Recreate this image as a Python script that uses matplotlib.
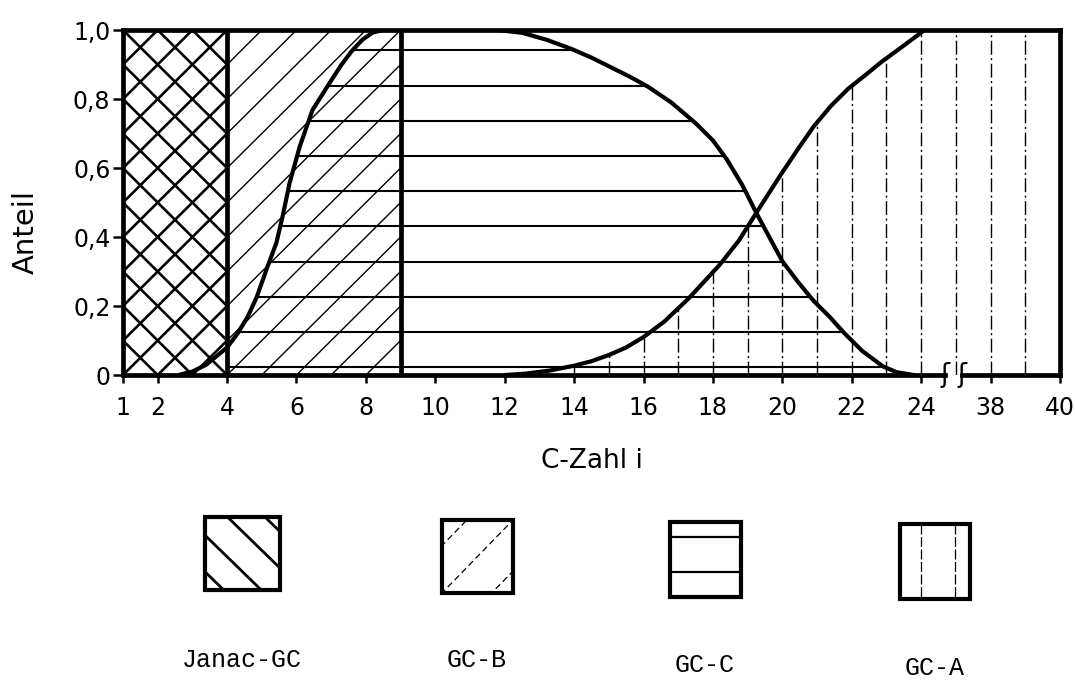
import numpy as np
import matplotlib.pyplot as plt
from matplotlib.patches import Polygon, Rectangle
from matplotlib.collections import LineCollection

plt.rcParams["font.family"] = ["DejaVu Sans"]

# x axis: C-Zahl i, broken after 24
tick_c = [1, 2, 4, 6, 8, 10, 12, 14, 16, 18, 20, 22, 24, 38, 40]
y_ticks = [0, 0.2, 0.4, 0.6, 0.8, 1.0]
y_labels = ["0", "0,2", "0,4", "0,6", "0,8", "1,0"]

# column limits of the bands
janac_c = [1, 4]
gcb_c = [4, 9]
c_last = 40

# rising share of GC-C (boundary to GC-B)
gcc_in_c = [2.6, 3.0, 3.4, 3.7, 4.0, 4.3, 4.6, 4.85, 5.15, 5.42, 5.6, 5.8,
            6.09, 6.46, 6.95, 7.3, 7.6, 7.9, 8.2, 8.5]
gcc_in_y = [0.0, 0.01, 0.03, 0.055, 0.08, 0.12, 0.17, 0.225, 0.31, 0.383,
            0.46, 0.556, 0.661, 0.768, 0.846, 0.9, 0.94, 0.972, 0.993, 1.0]

# falling share of GC-C
gcc_out_c = [11.8, 12.5, 13.2, 13.93, 14.5, 15.0, 15.6, 16.14, 16.8, 17.5,
             18.0, 18.4, 18.85, 19.25, 19.65, 20.0, 20.45, 20.9, 21.35, 21.8,
             22.3, 22.9, 23.3, 23.8]
gcc_out_y = [1.0, 0.992, 0.972, 0.945, 0.92, 0.895, 0.865, 0.835, 0.79, 0.73,
             0.68, 0.625, 0.55, 0.47, 0.395, 0.33, 0.27, 0.215, 0.17, 0.12,
             0.07, 0.025, 0.008, 0.0]

# rising share of GC-A
gca_in_c = [12.0, 12.6, 13.3, 14.0, 14.5, 15.0, 15.5, 16.0, 16.6, 17.3, 18.2,
            18.75, 19.25, 19.95, 20.45, 20.9, 21.4, 21.9, 22.4, 22.85, 23.5, 24.1]
gca_in_y = [0.0, 0.004, 0.013, 0.027, 0.04, 0.058, 0.08, 0.11, 0.155, 0.222,
            0.32, 0.39, 0.47, 0.58, 0.655, 0.72, 0.78, 0.83, 0.87, 0.907,
            0.955, 1.0]

legend_names = ["Janac-GC", "GC-B", "GC-C", "GC-A"]


def to_pos(c):
    """Axis position of a C-Zahl: 38 and 40 are shifted back by the break."""
    c = np.asarray(c, dtype=float)
    return np.where(c < 30, c, c - 12)


def clip_patch(ax, xs, ys):
    patch = Polygon(np.column_stack([xs, ys]), closed=True,
                    facecolor="none", edgecolor="none", transform=ax.transData)
    ax.add_patch(patch)
    return patch


fig = plt.figure(figsize=(10.75, 6.81), dpi=100)
ax = fig.add_axes([0.1144, 0.4493, 0.8716, 0.5066])

x_lo, x_hi = float(to_pos(1)), float(to_pos(c_last))
ax.set_xlim(x_lo, x_hi)
ax.set_ylim(0, 1)

# --- Janac-GC / GC-B: crosshatch in 1..4, "/" hatch in 4..9
slope = 0.1
ks = np.arange(-12, 30)
fwd = [[(k, 0), (k + 1 / slope, 1)] for k in ks]
bwd = [[(k, 0), (k - 1 / slope, 1)] for k in ks]

janac_clip = clip_patch(ax, [janac_c[0], janac_c[1], janac_c[1], janac_c[0]], [0, 0, 1, 1])
cross = LineCollection(fwd + bwd, colors="black", linewidths=1.9, zorder=2)
ax.add_collection(cross)
cross.set_clip_path(janac_clip)

gcb_clip = clip_patch(ax, [gcb_c[0], gcb_c[1], gcb_c[1], gcb_c[0]], [0, 0, 1, 1])
gcb_lines = LineCollection(fwd, colors="black", linewidths=1.0, zorder=2)
ax.add_collection(gcb_lines)
gcb_lines.set_clip_path(gcb_clip)

# --- GC-C: horizontal hatch between the two curves
gcc_x = np.concatenate([to_pos(gcc_in_c), to_pos(gcc_out_c)])
gcc_y = np.concatenate([gcc_in_y, gcc_out_y])
gcc_clip = clip_patch(ax, gcc_x, gcc_y)
levels = 0.023 + 0.102 * np.arange(10)
h = ax.hlines(levels, janac_c[1], 24, colors="black", linewidths=1.5, zorder=2)
h.set_clip_path(gcc_clip)

# --- GC-A: vertical hatch under the rising curve, full height after 24
gca_x = np.concatenate([to_pos(gca_in_c), [x_hi, x_hi]])
gca_y = np.concatenate([gca_in_y, [1, 0]])
gca_clip = clip_patch(ax, gca_x, gca_y)
v = ax.vlines(np.arange(13, x_hi), 0, 1, colors="black", linewidths=1.0,
              linestyles=[(0, (10, 2.5, 1.5, 2.5))], zorder=2)
v.set_clip_path(gca_clip)

# band borders and share curves
for c in (janac_c[1], gcb_c[1]):
    ax.axvline(float(to_pos(c)), color="black", lw=3.4, zorder=4)
for cs, ys in ((gcc_in_c, gcc_in_y), (gcc_out_c, gcc_out_y), (gca_in_c, gca_in_y)):
    ax.plot(to_pos(cs), ys, color="black", lw=3.0, zorder=5,
            solid_capstyle="round", solid_joinstyle="round")

# frame with a broken bottom axis
for side in ("left", "top", "right"):
    ax.spines[side].set_linewidth(3.4)
ax.spines["bottom"].set_visible(False)
gap = (24.69, 25.18)
ax.plot([x_lo, gap[0]], [0, 0], color="black", lw=3.4, clip_on=False, zorder=6)
ax.plot([gap[1], x_hi], [0, 0], color="black", lw=3.4, clip_on=False, zorder=6)
for gx in gap:
    ax.text(gx, 0, "ʃ", ha="center", va="center", fontsize=19, clip_on=False,
            zorder=7)

ax.set_xticks(to_pos(tick_c))
ax.set_xticklabels([str(c) for c in tick_c])
ax.set_yticks(y_ticks)
ax.set_yticklabels(y_labels)
ax.tick_params(axis="x", direction="out", length=6, width=1.8, pad=9,
               labelsize=17)
ax.tick_params(axis="y", direction="out", length=7, width=1.8, pad=2,
               labelsize=17)

ax.set_xlabel("C-Zahl i", fontsize=19, labelpad=20)
fig.text(0.024, 0.66, "Anteil", rotation=90, ha="center", va="center",
         fontsize=21)

# --- legend boxes drawn in pixel coordinates
leg = fig.add_axes([0, 0, 1, 1], facecolor="none")
leg.set_xlim(0, 1075)
leg.set_ylim(681, 0)
leg.axis("off")

boxes = [(205, 517, 75, 73), (442, 520, 71, 73), (670, 522, 71, 75),
         (900, 524, 70, 75)]
label_xy = [(242, 660), (477, 660), (705, 665), (935, 668)]

for name, (bx, by, bw, bh), (tx, ty) in zip(legend_names, boxes, label_xy):
    rect = Rectangle((bx, by), bw, bh, facecolor="none", edgecolor="black",
                     lw=3.0, zorder=3)
    leg.add_patch(rect)
    segs, lw, ls = [], 1.6, "solid"
    if name == "Janac-GC":
        for c in (-0.8, -0.3, 0.25, 0.75):
            segs.append([(bx - bw, by + (-1 + c) * bh), (bx + 2 * bw, by + (2 + c) * bh)])
        lw = 2.0
    elif name == "GC-B":
        for c in (0.35, 1.0, 1.7):
            segs.append([(bx - bw, by + (c + 1) * bh), (bx + 2 * bw, by + (c - 2) * bh)])
        lw, ls = 0.9, (0, (5, 3))
    elif name == "GC-C":
        for f in (0.2, 0.67):
            segs.append([(bx, by + f * bh), (bx + bw, by + f * bh)])
    else:
        segs.append([(bx + 0.3 * bw, by), (bx + 0.3 * bw, by + bh)])
        segs.append([(bx + 0.78 * bw, by), (bx + 0.78 * bw, by + bh)])
        lw, ls = 0.9, (0, (8, 2))
    lc = LineCollection(segs, colors="black", linewidths=lw, linestyles=ls,
                        zorder=2)
    leg.add_collection(lc)
    lc.set_clip_path(rect)
    leg.text(tx, ty, name, ha="center", va="center", fontsize=18,
             family=["Liberation Mono", "DejaVu Sans Mono"])

fig.savefig("out.png", dpi=100)
